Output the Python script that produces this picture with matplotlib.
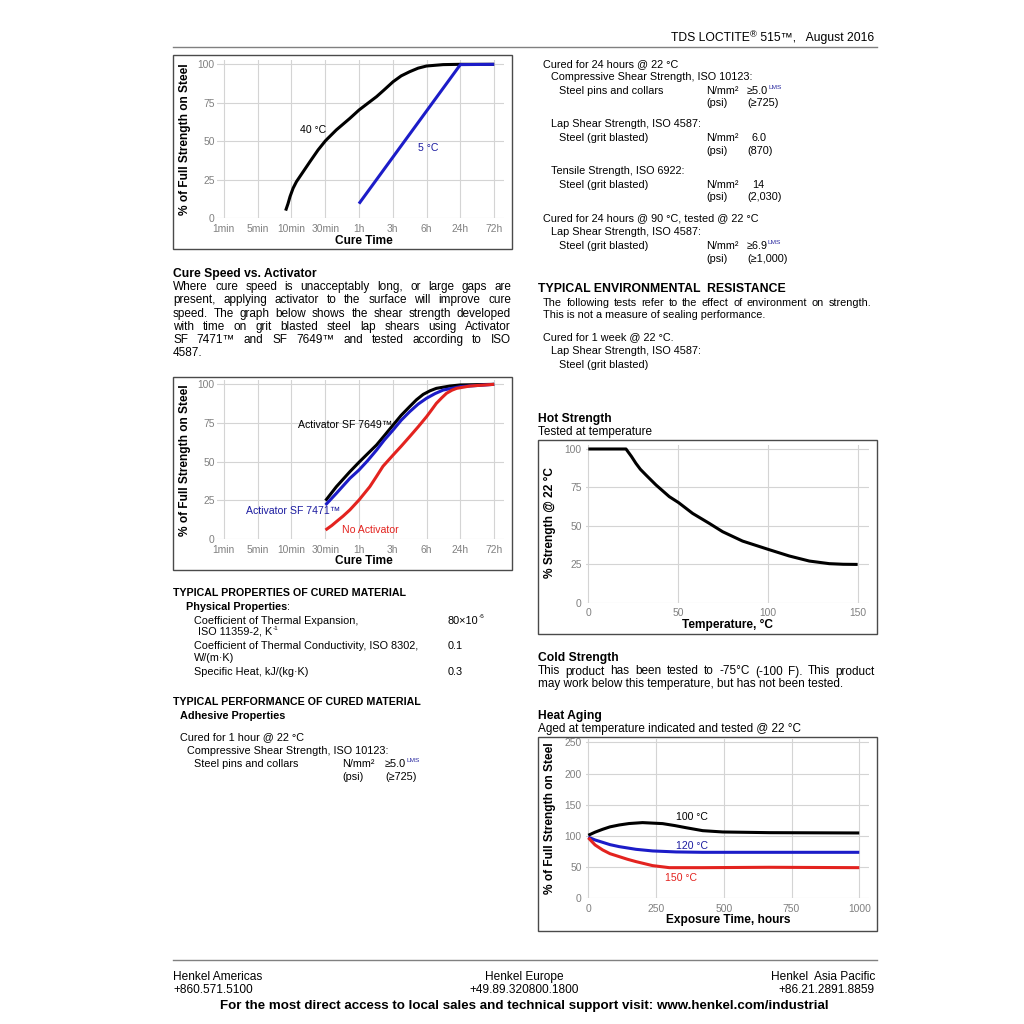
import matplotlib
matplotlib.use("Agg")
import matplotlib.pyplot as plt
from matplotlib.patches import Rectangle
from matplotlib.lines import Line2D

plt.rcParams['font.family'] = ['Liberation Sans', 'DejaVu Sans']

# ---- data ----
cure_labels = ['1min', '5min', '10min', '30min', '1h', '3h', '6h', '24h', '72h']

# cure speed vs temperature (x = position on the category axis)
c40_x = [1.83, 1.9, 1.96, 2.05, 2.15, 2.35, 2.55, 2.79, 3.01, 3.33, 3.73, 4.0, 4.25, 4.52, 4.75, 5.01, 5.25, 5.5, 5.75, 6.0, 6.49, 7.0, 8.0]
c40_y = [5.0, 9.5, 14.1, 19.5, 23.8, 30.3, 36.8, 44.4, 50.4, 57.4, 64.9, 70.3, 74.5, 79.0, 83.5, 88.7, 92.5, 95.2, 97.5, 98.9, 99.8, 100, 100]
c5_x = [4.0, 7.0, 8.0]
c5_y = [9.5, 99.8, 100]

# cure speed vs activator
a7649_x = [3.01, 3.33, 3.73, 4.0, 4.25, 4.52, 4.75, 5.01, 5.25, 5.5, 5.7, 5.9, 6.1, 6.29, 6.69, 7.0, 8.0]
a7649_y = [24.8, 33.8, 43.5, 49.6, 55.0, 60.8, 66.8, 73.7, 80.0, 85.6, 90.0, 93.5, 95.8, 97.4, 98.9, 99.6, 100]
a7471_x = [3.01, 3.33, 3.73, 4.0, 4.25, 4.52, 4.75, 5.01, 5.25, 5.5, 5.75, 6.0, 6.25, 6.49, 7.0, 8.0]
a7471_y = [22.0, 29.5, 39.2, 44.6, 50.5, 57.5, 64.0, 70.5, 76.8, 82.3, 87.2, 91.0, 94.0, 96.3, 98.5, 100]
noact_x = [3.01, 3.2, 3.33, 3.53, 3.73, 4.0, 4.16, 4.32, 4.52, 4.71, 5.01, 5.25, 5.5, 5.75, 6.0, 6.15, 6.29, 6.45, 6.59, 6.75, 6.89, 7.28, 8.0]
noact_y = [5.8, 8.8, 11.2, 14.8, 18.8, 25.2, 29.5, 33.8, 40.5, 47.0, 54.3, 60.0, 66.2, 72.5, 79.1, 83.5, 87.7, 91.3, 94.2, 96.2, 97.4, 98.9, 100]

# hot strength
hot_temp = [0, 21, 24, 26.5, 29, 32.1, 37.7, 45.1, 50.3, 58.1, 67.4, 74.8, 85.9, 100.2, 111.9, 123.1, 134.2, 142, 150]
hot_pct = [100, 100, 95.2, 90.7, 86.8, 83.1, 76.6, 69.0, 65.1, 58.1, 51.6, 46.2, 40.1, 34.7, 30.4, 27.1, 25.4, 25.0, 24.9]

# heat aging
age100_t = [0, 25, 53, 80, 114, 150, 200, 274, 320, 360, 422, 496, 668, 1000]
age100_s = [101, 106, 110.6, 114.5, 117.5, 119.8, 121.3, 119.7, 116.5, 113.2, 108.4, 106.3, 105.2, 104.7]
age120_t = [0, 25, 53, 80, 114, 176, 237, 324, 422, 1000]
age120_s = [98, 93.5, 89.7, 86.0, 82.8, 78.5, 75.9, 74.3, 73.7, 73.7]
age150_t = [0, 25, 53, 80, 114, 145, 176, 237, 299, 422, 668, 1000]
age150_s = [97, 85.5, 77.5, 71.5, 66.8, 62.5, 58.8, 52.4, 49.1, 49.1, 49.7, 49.1]

BLUE = '#1c1cc8'
RED = '#e3231f'

W = H = 1024
fig = plt.figure(figsize=(10.24, 10.24), dpi=100)
r = fig.canvas.get_renderer()


def fx(px):
    return px / W


def fy(py):
    return 1 - py / H


def txt(x, y, s, size=7.8, weight='normal', ha='left', color='black', **kw):
    return fig.text(fx(x), fy(y), s, fontsize=size, fontweight=weight, ha=ha,
                    va='center', color=color, **kw)


def width(t):
    return t.get_window_extent(r).width


def justify(x0, x1, y, line, size=8.5):
    words = line.split()
    ts = [txt(x0, y, w, size) for w in words]
    ws = [width(t) for t in ts]
    gap = (x1 - x0 - sum(ws)) / (len(words) - 1)
    x = x0
    for t, w in zip(ts, ws):
        t.set_x(fx(x))
        x += w + gap


def run(x, y, pieces, ha='left'):
    arts = []
    cx = x
    for s, size, weight, color, dy in pieces:
        t = txt(cx, y + dy, s, size, weight, color=color)
        cx += width(t)
        arts.append(t)
    if ha == 'right':
        shift = cx - x
        for t in arts:
            t.set_x(t.get_position()[0] - shift / W)
    return arts


def sup(x, y, base, s, size=7.8, color='black'):
    run(x, y, [(base, size, 'normal', 'black', 0), (s, size * 0.6, 'normal', color, -3.5)])


def hline(x0, x1, y, color='#808080', lw=1.0):
    fig.add_artist(Line2D([fx(x0), fx(x1)], [fy(y), fy(y)], color=color, lw=lw))


def frame(x0, y0, x1, y1):
    fig.add_artist(Rectangle((fx(x0), fy(y1)), (x1 - x0) / W, (y1 - y0) / H,
                             fill=False, ec='#4a4a4a', lw=1.0, transform=fig.transFigure))


def chart(box, xlim, ylim, xticks, xticklabels, yticks, ypad=1.5):
    x0, y0, x1, y1 = box
    ax = fig.add_axes([fx(x0), fy(y1), (x1 - x0) / W, (y1 - y0) / H])
    ax.set_xlim(xlim)
    ax.set_ylim(ylim)
    ax.set_xticks(xticks)
    ax.set_xticklabels(xticklabels)
    ax.set_yticks(yticks)
    for sp in ax.spines.values():
        sp.set_visible(False)
    ax.grid(True, color='#d4d4d4', lw=0.8)
    ax.set_axisbelow(True)
    ax.tick_params(length=0, labelsize=7.4, labelcolor='#808080')
    ax.tick_params(axis='x', pad=4)
    ax.tick_params(axis='y', pad=ypad)
    ax.patch.set_alpha(0)
    return ax


def curve(ax, x, y, color):
    ax.plot(x, y, color=color, lw=2.2, solid_joinstyle='round', solid_capstyle='butt')


# ---- header / footer ----
run(874, 38, [('TDS LOCTITE', 8.7, 'normal', 'black', 0), ('®', 6.8, 'normal', 'black', -3.5),
              (' 515™,   August 2016', 8.7, 'normal', 'black', 0)], ha='right')
hline(173, 877, 46.5)
hline(173, 877, 960)
txt(173, 977, 'Henkel Americas', 8.6)
txt(173, 990, '+860.571.5100', 8.6)
txt(524, 977, 'Henkel Europe', 8.6, ha='center')
txt(524, 990, '+49.89.320800.1800', 8.6, ha='center')
txt(875, 977, 'Henkel  Asia Pacific', 8.6, ha='right')
txt(875, 990, '+86.21.2891.8859', 8.6, ha='right')
txt(524, 1006, 'For the most direct access to local sales and technical support visit: www.henkel.com/industrial',
    9.6, 'bold', ha='center')

# ---- chart 1: cure speed vs temperature ----
frame(173, 55, 512, 249)
ax1 = chart((216.7, 60, 504.3, 218.3), (-0.21, 8.3), (0, 102.8), range(9), cure_labels, [0, 25, 50, 75, 100])
curve(ax1, c40_x, c40_y, 'black')
curve(ax1, c5_x, c5_y, BLUE)
ax1.text(2.25, 57.4, '40 °C', fontsize=7.6, va='center')
ax1.text(5.75, 45.5, '5 °C', fontsize=7.6, va='center', color='#1c1ca0')
txt(364, 240.5, 'Cure Time', 8.6, 'bold', ha='center')
txt(185, 139, '% of Full Strength on Steel', 8.6, 'bold', ha='center', rotation=90)

# ---- left text ----
txt(173, 273.5, 'Cure Speed vs. Activator', 8.7, 'bold')
para = ['Where cure speed is unacceptably long, or large gaps are',
        'present, applying activator to the surface will improve cure',
        'speed. The graph below shows the shear strength developed',
        'with time on grit blasted steel lap shears using Activator',
        'SF 7471™ and SF 7649™ and tested according to ISO']
for i, line in enumerate(para):
    justify(173, 511, 287 + i * 13.3, line)
txt(173, 287 + 5 * 13.3, '4587.', 8.5)

# ---- chart 2: cure speed vs activator ----
frame(173, 377, 512, 570)
ax2 = chart((216.7, 380, 504.3, 539), (-0.21, 8.3), (0, 102.8), range(9), cure_labels, [0, 25, 50, 75, 100])
curve(ax2, a7649_x, a7649_y, 'black')
curve(ax2, a7471_x, a7471_y, BLUE)
curve(ax2, noact_x, noact_y, RED)
ax2.text(2.2, 73.7, 'Activator SF 7649™', fontsize=7.6, va='center')
ax2.text(0.67, 18, 'Activator SF 7471™', fontsize=7.6, va='center', color='#1c1ca0')
ax2.text(3.51, 5.8, 'No Activator', fontsize=7.6, va='center', color=RED)
txt(364, 561, 'Cure Time', 8.6, 'bold', ha='center')
txt(185, 460, '% of Full Strength on Steel', 8.6, 'bold', ha='center', rotation=90)

# ---- left column properties ----
txt(173, 593, 'TYPICAL PROPERTIES OF CURED MATERIAL', 7.7, 'bold')
run(186, 607, [('Physical Properties', 7.8, 'bold', 'black', 0), (':', 7.8, 'normal', 'black', 0)])
txt(194, 620.5, 'Coefficient of Thermal Expansion,')
sup(448, 620.5, '80×10', '-6')
sup(195, 632, ' ISO 11359-2, K', '-1')
txt(194, 646, 'Coefficient of Thermal Conductivity, ISO 8302,')
txt(448, 646, '0.1')
txt(194, 658, 'W/(m·K)')
txt(194, 672, 'Specific Heat, kJ/(kg·K)')
txt(448, 672, '0.3')
txt(173, 702, 'TYPICAL PERFORMANCE OF CURED MATERIAL', 7.7, 'bold')
txt(180, 716, 'Adhesive Properties', 7.8, 'bold')
txt(180, 737, 'Cured for 1 hour @ 22 °C')
txt(187, 750.5, 'Compressive Shear Strength, ISO 10123:')
txt(194, 764, 'Steel pins and collars')
txt(342, 764, 'N/mm²')
sup(385, 764, '≥5.0', 'LMS', color='#2a2aa0')
txt(342, 776.5, '(psi)')
txt(385, 776.5, '(≥725)')

# ---- right column ----
txt(543, 64, 'Cured for 24 hours @ 22 °C')
txt(551, 77, 'Compressive Shear Strength, ISO 10123:')
rows = [(91, 'Steel pins and collars', '≥5.0', True, '(≥725)'),
        (138, 'Steel (grit blasted)', '6.0', False, '(870)'),
        (185, 'Steel (grit blasted)', '14', False, '(2,030)'),
        (246, 'Steel (grit blasted)', '≥6.9', True, '(≥1,000)')]
for y, lab, val, lms, psi in rows:
    txt(559, y, lab)
    txt(706, y, 'N/mm²')
    if lms:
        sup(747, y, val, 'LMS', color='#2a2aa0')
    else:
        txt(752, y, val)
    txt(706, y + 12.5, '(psi)')
    txt(747, y + 12.5, psi)
txt(551, 124, 'Lap Shear Strength, ISO 4587:')
txt(551, 171, 'Tensile Strength, ISO 6922:')
txt(543, 218.5, 'Cured for 24 hours @ 90 °C, tested @ 22 °C')
txt(551, 232, 'Lap Shear Strength, ISO 4587:')

txt(538, 289, 'TYPICAL ENVIRONMENTAL  RESISTANCE', 8.8, 'bold')
justify(543, 871, 303, 'The following tests refer to the effect of environment on strength.', 7.8)
txt(543, 315.5, 'This is not a measure of sealing performance.')
txt(543, 337, 'Cured for 1 week @ 22 °C.')
txt(551, 350.5, 'Lap Shear Strength, ISO 4587:')
txt(559, 364.5, 'Steel (grit blasted)')

txt(538, 419, 'Hot Strength', 8.7, 'bold')
txt(538, 432.5, 'Tested at temperature', 8.5)

# ---- chart 3: hot strength ----
frame(538, 440, 877, 634)
ax3 = chart((586, 445, 869.3, 602.7), (-1.28, 156.5), (0, 102.6), [0, 50, 100, 150],
            ['0', '50', '100', '150'], [0, 25, 50, 75, 100], ypad=3)
curve(ax3, hot_temp, hot_pct, 'black')
txt(728, 624.5, 'Temperature, °C', 8.6, 'bold', ha='center')
txt(549.5, 522, '% Strength @ 22 °C', 8.6, 'bold', ha='center', rotation=90)

txt(538, 658, 'Cold Strength', 8.7, 'bold')
justify(538, 875, 671.5, 'This product has been tested to -75°C (-100 F). This product')
txt(538, 684.5, 'may work below this temperature, but has not been tested.', 8.5)
txt(538, 716, 'Heat Aging', 8.7, 'bold')
txt(538, 729, 'Aged at temperature indicated and tested @ 22 °C', 8.5)

# ---- chart 4: heat aging ----
frame(538, 737, 877, 931)
ax4 = chart((586, 739, 869.3, 898.3), (-8.5, 1037), (0, 255.3), [0, 250, 500, 750, 1000],
            ['0', '250', '500', '750', '1000'], [0, 50, 100, 150, 200, 250], ypad=3)
curve(ax4, age100_t, age100_s, 'black')
curve(ax4, age120_t, age120_s, BLUE)
curve(ax4, age150_t, age150_s, RED)
ax4.text(323, 131, '100 °C', fontsize=7.6, va='center')
ax4.text(323, 84, '120 °C', fontsize=7.6, va='center', color='#1c1ca0')
ax4.text(284, 33, '150 °C', fontsize=7.6, va='center', color=RED)
txt(728, 920.5, 'Exposure Time, hours', 8.6, 'bold', ha='center')
txt(549.5, 818, '% of Full Strength on Steel', 8.6, 'bold', ha='center', rotation=90)

fig.savefig('out.png', dpi=100)
